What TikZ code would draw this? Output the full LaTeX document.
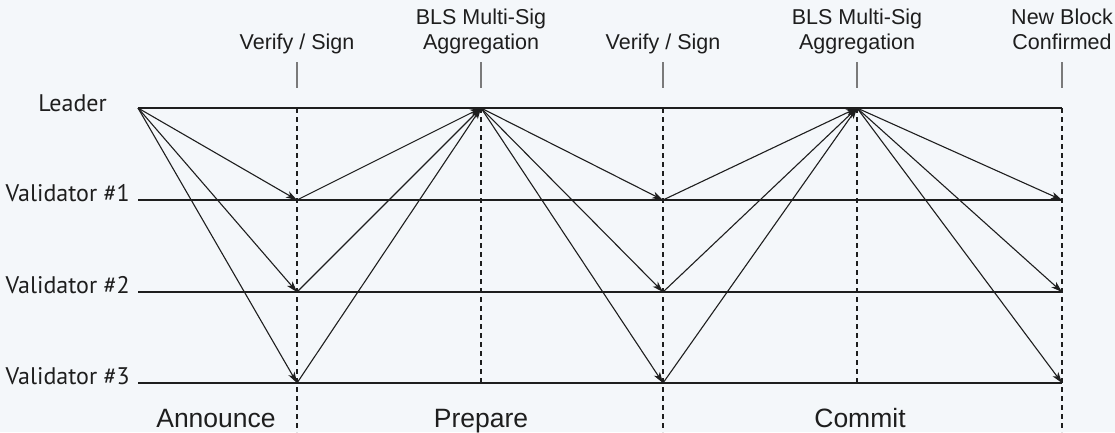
\documentclass[tikz,border=0pt]{standalone}
\usepackage{fontspec}
\setmainfont{Liberation Sans}
\newfontfamily\rowfont{PT Sans}
\usetikzlibrary{arrows.meta}

\definecolor{bgpaper}{HTML}{F4F7FA}
\definecolor{inkline}{HTML}{1E1E1E}
\definecolor{tickgray}{HTML}{7A7A7A}

\begin{document}
\begin{tikzpicture}[x=1pt, y=-1pt, >={Stealth[length=11pt, width=7pt, inset=3pt]},
    lane/.style={draw=inkline, line width=1.2pt},
    msg/.style={->, draw=inkline, line width=1.1pt},
    phaseline/.style={draw=inkline, line width=1.3pt, dash pattern=on 5pt off 4pt},
    marker/.style={draw=tickgray, line width=1.2pt},
    rowlabel/.style={anchor=base east, inner sep=0pt, text=inkline, font=\rowfont\fontsize{24}{28}\selectfont},
    steplabel/.style={anchor=base, align=center, inner sep=0pt, text=inkline, font=\fontsize{21.5}{25}\selectfont},
    phaselabel/.style={anchor=base, inner sep=0pt, text=inkline, font=\fontsize{26.5}{30}\selectfont}]
    % Background and size
    \fill[bgpaper] (0,0) rectangle (1115,432);
    \useasboundingbox (0,0) rectangle (1115,432);

    % Points on the lanes
    \foreach \col/\x in {0/138, 1/297, 2/481, 3/663, 4/857, 5/1062}{
        \coordinate (lead-\col) at (\x,108);
        \coordinate (val1-\col) at (\x,200);
        \coordinate (val2-\col) at (\x,292);
        \coordinate (val3-\col) at (\x,383);
        \coordinate (foot-\col) at (\x,432);
        \coordinate (tktop-\col) at (\x,62);
        \coordinate (tkbot-\col) at (\x,88);
    }

    % Phase boundaries
    \draw[phaseline] (lead-1) -- (foot-1);
    \draw[phaseline] (lead-2) -- (val3-2);
    \draw[phaseline] (lead-3) -- (foot-3);
    \draw[phaseline] (lead-4) -- (val3-4);
    \draw[phaseline] (lead-5) -- (foot-5);

    % Lanes
    \draw[lane] (lead-0) -- (lead-5);
    \draw[lane] (val1-0) -- (val1-5);
    \draw[lane] (val2-0) -- (val2-5);
    \draw[lane] (val3-0) -- (val3-5);

    \node[rowlabel] (leaderlbl) at (107,111) {Leader};
    \node[rowlabel] (val1lbl) at (130,201) {Validator \#1};
    \node[rowlabel] (val2lbl) at (130,293) {Validator \#2};
    \node[rowlabel] (val3lbl) at (130,384) {Validator \#3};

    % Step markers
    \foreach \col in {1,...,5}
        \draw[marker] (tktop-\col) -- (tkbot-\col);

    \node[steplabel] (sign1) at (297,49) {Verify / Sign};
    \node[steplabel] (aggr1) at (481,49) {BLS Multi-Sig\\Aggregation};
    \node[steplabel] (sign2) at (663,49) {Verify / Sign};
    \node[steplabel] (aggr2) at (857,49) {BLS Multi-Sig\\Aggregation};
    \node[steplabel] (newblk) at (1062,49) {New Block\\Confirmed};

    % Messages
    \foreach \v in {1,2,3}{
        \draw[msg] (lead-0) -- (val\v-1);
        \draw[msg] (val\v-1) -- (lead-2);
        \draw[msg] (lead-2) -- (val\v-3);
        \draw[msg] (val\v-3) -- (lead-4);
        \draw[msg] (lead-4) -- (val\v-5);
    }

    % Phases
    \node[phaselabel] (announce) at (216,427) {Announce};
    \node[phaselabel] (prepare) at (481,427) {Prepare};
    \node[phaselabel] (commit) at (860,427) {Commit};
\end{tikzpicture}
\end{document}
